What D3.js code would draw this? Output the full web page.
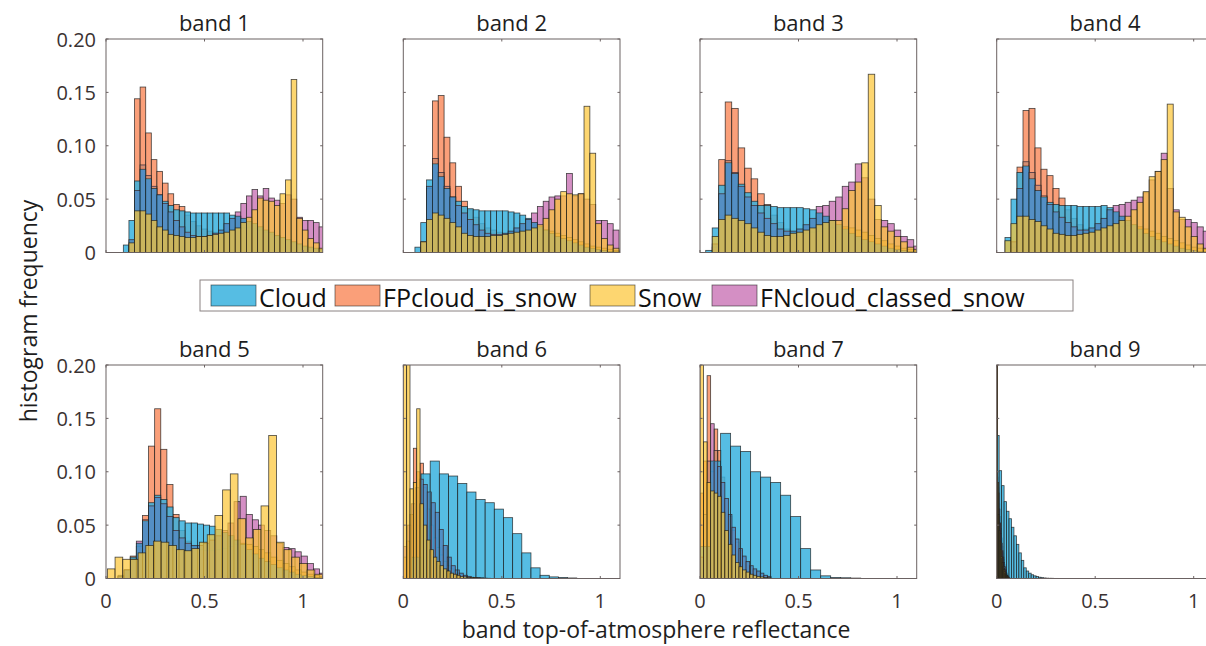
<!DOCTYPE html>
<html>
<head>
<meta charset="utf-8">
<script src="https://cdn.jsdelivr.net/npm/d3@7"></script>
<style>
  body { margin: 0; background: #fff; }
  svg { display: block; font-family: 'Open Sans', 'Noto Sans', sans-serif; }
</style>
</head>
<body>
<svg id="chart" width="1206" height="646"></svg>
<script>
// Series order in every band array: Cloud, FP, Snow, FN
const SERIES = ['Cloud', 'FPcloud_is_snow', 'Snow', 'FNcloud_classed_snow'];
const TITLES = ['band 1', 'band 2', 'band 3', 'band 4', 'band 5', 'band 6', 'band 7', 'band 9'];
const Y_TICKS = [0, 0.05, 0.1, 0.15, 0.2];
const Y_TICK_LABELS = ['0', '0.05', '0.10', '0.15', '0.20'];
const X_TICKS = [0, 0.5, 1];
const X_TICK_LABELS = ['0', '0.5', '1'];

// bin start / bin width per series (Cloud, FP, Snow, FN)
const band1Start = [0.088, 0.088, 0.088, 0.088];
const band1Width = [0.0284, 0.0284, 0.0284, 0.0284];
const band1Cloud = [0.007, 0.030, 0.067, 0.078, 0.069, 0.060, 0.054, 0.048, 0.044, 0.040, 0.039, 0.038, 0.037, 0.037, 0.037, 0.037, 0.037, 0.037, 0.037, 0.035, 0.034, 0.032, 0.029, 0.027, 0.024, 0.021, 0.019, 0.016, 0.014, 0.012, 0.010, 0.008, 0.006, 0.005, 0.004, 0.003];
const band1FP = [0, 0.003, 0.144, 0.155, 0.112, 0.087, 0.076, 0.065, 0.055, 0.045, 0.043, 0.035, 0.029, 0.025, 0.022, 0.020, 0.019, 0.019, 0.020, 0.021, 0.022, 0.023, 0.023, 0.022, 0.021, 0.019, 0.017, 0.015, 0.013, 0.011, 0.009, 0.007, 0.005, 0.004, 0.003, 0.002];
const band1Snow = [0, 0.009, 0.039, 0.039, 0.036, 0.030, 0.024, 0.021, 0.017, 0.016, 0.015, 0.014, 0.014, 0.015, 0.015, 0.016, 0.017, 0.018, 0.019, 0.021, 0.023, 0.028, 0.033, 0.040, 0.051, 0.049, 0.048, 0.044, 0.055, 0.068, 0.162, 0.032, 0.021, 0.013, 0.009, 0.004];
const band1FN = [0, 0.012, 0.058, 0.082, 0.072, 0.062, 0.054, 0.046, 0.038, 0.030, 0.024, 0.019, 0.016, 0.015, 0.015, 0.016, 0.018, 0.021, 0.027, 0.032, 0.038, 0.046, 0.053, 0.059, 0.053, 0.060, 0.051, 0.049, 0.046, 0.054, 0.050, 0.033, 0.030, 0.030, 0.028, 0.024];

const band2Start = [0.059, 0.059, 0.059, 0.059];
const band2Width = [0.0296, 0.0296, 0.0296, 0.0296];
const band2Cloud = [0.005, 0.028, 0.068, 0.083, 0.071, 0.060, 0.052, 0.048, 0.043, 0.041, 0.040, 0.039, 0.039, 0.039, 0.039, 0.039, 0.038, 0.037, 0.035, 0.032, 0.028, 0.024, 0.021, 0.018, 0.015, 0.013, 0.011, 0.009, 0.007, 0.005, 0.004, 0.003, 0.002, 0.001, 0.001];
const band2FP = [0, 0.002, 0.060, 0.142, 0.147, 0.108, 0.084, 0.062, 0.048, 0.040, 0.033, 0.027, 0.023, 0.021, 0.019, 0.018, 0.018, 0.019, 0.020, 0.021, 0.022, 0.022, 0.021, 0.020, 0.018, 0.016, 0.014, 0.012, 0.010, 0.008, 0.006, 0.005, 0.004, 0.003, 0.002];
const band2Snow = [0, 0.010, 0.031, 0.037, 0.035, 0.032, 0.028, 0.024, 0.018, 0.016, 0.015, 0.015, 0.015, 0.016, 0.016, 0.017, 0.018, 0.019, 0.020, 0.021, 0.023, 0.026, 0.032, 0.040, 0.050, 0.057, 0.055, 0.054, 0.055, 0.137, 0.093, 0.027, 0.013, 0.007, 0.004];
const band2FN = [0, 0.010, 0.062, 0.088, 0.075, 0.062, 0.052, 0.044, 0.037, 0.031, 0.026, 0.021, 0.018, 0.017, 0.017, 0.018, 0.020, 0.023, 0.027, 0.031, 0.037, 0.043, 0.048, 0.052, 0.053, 0.053, 0.074, 0.053, 0.055, 0.050, 0.045, 0.030, 0.030, 0.027, 0.021];

const band3Start = [0.029, 0.029, 0.029, 0.029];
const band3Width = [0.033, 0.033, 0.033, 0.033];
const band3Cloud = [0.002, 0.023, 0.063, 0.084, 0.074, 0.064, 0.056, 0.048, 0.044, 0.044, 0.043, 0.042, 0.042, 0.042, 0.042, 0.041, 0.040, 0.037, 0.034, 0.030, 0.026, 0.022, 0.018, 0.015, 0.012, 0.010, 0.008, 0.006, 0.004, 0.003, 0.002, 0.001, 0.001];
const band3FP = [0, 0.005, 0.087, 0.141, 0.135, 0.098, 0.079, 0.069, 0.055, 0.045, 0.035, 0.028, 0.022, 0.019, 0.018, 0.018, 0.019, 0.020, 0.022, 0.023, 0.024, 0.024, 0.023, 0.021, 0.019, 0.016, 0.013, 0.011, 0.008, 0.006, 0.004, 0.003, 0.002];
const band3Snow = [0, 0.015, 0.031, 0.035, 0.032, 0.030, 0.027, 0.023, 0.019, 0.016, 0.015, 0.015, 0.016, 0.018, 0.019, 0.021, 0.023, 0.026, 0.028, 0.030, 0.030, 0.041, 0.058, 0.066, 0.084, 0.167, 0.044, 0.024, 0.020, 0.015, 0.010, 0.005, 0.003];
const band3FN = [0, 0.008, 0.055, 0.086, 0.075, 0.062, 0.052, 0.044, 0.037, 0.032, 0.027, 0.022, 0.020, 0.020, 0.022, 0.026, 0.032, 0.043, 0.044, 0.048, 0.052, 0.062, 0.066, 0.083, 0.070, 0.050, 0.031, 0.030, 0.027, 0.021, 0.015, 0.012, 0.006];

const band4Start = [0.042, 0.042, 0.042, 0.042];
const band4Width = [0.0305, 0.0305, 0.0305, 0.0305];
const band4Cloud = [0.014, 0.050, 0.075, 0.081, 0.069, 0.058, 0.052, 0.047, 0.045, 0.044, 0.044, 0.044, 0.043, 0.043, 0.043, 0.043, 0.044, 0.042, 0.038, 0.034, 0.030, 0.026, 0.022, 0.018, 0.015, 0.012, 0.010, 0.008, 0.006, 0.004, 0.003, 0.002, 0.001, 0.001, 0.001];
const band4FP = [0, 0.005, 0.080, 0.133, 0.135, 0.098, 0.078, 0.072, 0.060, 0.051, 0.040, 0.032, 0.026, 0.022, 0.020, 0.020, 0.021, 0.022, 0.023, 0.024, 0.025, 0.025, 0.024, 0.022, 0.020, 0.018, 0.015, 0.013, 0.011, 0.009, 0.007, 0.005, 0.004, 0.003, 0.002];
const band4Snow = [0.011, 0.027, 0.034, 0.034, 0.031, 0.029, 0.025, 0.022, 0.018, 0.017, 0.016, 0.016, 0.017, 0.018, 0.019, 0.021, 0.023, 0.025, 0.027, 0.030, 0.034, 0.040, 0.047, 0.057, 0.071, 0.076, 0.087, 0.139, 0.038, 0.033, 0.024, 0.015, 0.008, 0.004, 0.002];
const band4FN = [0, 0.010, 0.060, 0.085, 0.075, 0.063, 0.053, 0.045, 0.038, 0.033, 0.028, 0.024, 0.021, 0.021, 0.023, 0.027, 0.032, 0.040, 0.044, 0.045, 0.047, 0.049, 0.052, 0.056, 0.068, 0.076, 0.093, 0.060, 0.040, 0.031, 0.031, 0.028, 0.024, 0.020, 0.015];

const band5Start = [0.03, 0.03, 0.007, 0.03];
const band5Width = [0.031, 0.031, 0.039, 0.031];
const band5Cloud = [0, 0.003, 0.008, 0.020, 0.033, 0.054, 0.071, 0.078, 0.074, 0.067, 0.057, 0.054, 0.052, 0.052, 0.051, 0.050, 0.049, 0.046, 0.043, 0.040, 0.036, 0.032, 0.027, 0.023, 0.019, 0.016, 0.013, 0.010, 0.008, 0.006, 0.004, 0.003, 0.002, 0.001, 0.001];
const band5FP = [0, 0.002, 0.008, 0.021, 0.030, 0.059, 0.124, 0.159, 0.121, 0.088, 0.060, 0.045, 0.035, 0.030, 0.027, 0.026, 0.026, 0.027, 0.028, 0.030, 0.032, 0.033, 0.032, 0.030, 0.027, 0.024, 0.020, 0.017, 0.014, 0.011, 0.008, 0.006, 0.004, 0.003, 0.002];
const band5Snow = [0.009, 0.020, 0.018, 0.018, 0.024, 0.031, 0.035, 0.034, 0.031, 0.027, 0.026, 0.028, 0.034, 0.041, 0.059, 0.083, 0.098, 0.056, 0.038, 0.046, 0.068, 0.134, 0.034, 0.027, 0.020, 0.014, 0.008, 0.004];
const band5FN = [0, 0.002, 0.008, 0.018, 0.035, 0.055, 0.068, 0.076, 0.070, 0.058, 0.045, 0.038, 0.033, 0.031, 0.031, 0.033, 0.036, 0.040, 0.045, 0.052, 0.072, 0.077, 0.060, 0.055, 0.050, 0.045, 0.040, 0.033, 0.029, 0.028, 0.025, 0.021, 0.014, 0.009, 0.005];

const band6Start = [0.0435, 0, 0, 0];
const band6Width = [0.0465, 0.017, 0.017, 0.0203];
const band6Cloud = [0.020, 0.098, 0.110, 0.098, 0.096, 0.089, 0.081, 0.074, 0.071, 0.065, 0.057, 0.042, 0.024, 0.010, 0.003, 0.0015, 0.001, 0.0005];
const band6FP = [0.020, 0.035, 0.060, 0.122, 0.100, 0.108, 0.085, 0.065, 0.050, 0.038, 0.029, 0.022, 0.016, 0.012, 0.009, 0.007, 0.005, 0.004, 0.003, 0.002, 0.0015, 0.001, 0.0008, 0.0005];
const band6Snow = [0.22, 0.21, 0.084, 0.090, 0.159, 0.070, 0.050, 0.036, 0.027, 0.020, 0.016, 0.012, 0.009, 0.007, 0.005, 0.004, 0.003, 0.002, 0.0015, 0.001, 0.001, 0.0008, 0.0005, 0.0004, 0.0003, 0.0002];
const band6FN = [0.030, 0.050, 0.070, 0.085, 0.093, 0.088, 0.081, 0.071, 0.062, 0.046, 0.031, 0.020, 0.012, 0.008, 0.005, 0.003, 0.002, 0.001, 0.0008, 0.0005];

const band7Start = [0.003, 0, 0, 0];
const band7Width = [0.0508, 0.018, 0.018, 0.018];
const band7Cloud = [0.030, 0.110, 0.136, 0.124, 0.119, 0.100, 0.095, 0.090, 0.078, 0.058, 0.028, 0.008, 0.0025, 0.001, 0.0007, 0.0004];
const band7FP = [0.080, 0.110, 0.190, 0.100, 0.140, 0.120, 0.095, 0.075, 0.058, 0.045, 0.034, 0.026, 0.020, 0.015, 0.011, 0.008, 0.006, 0.004, 0.003, 0.002];
const band7Snow = [0.21, 0.128, 0.090, 0.082, 0.080, 0.077, 0.062, 0.045, 0.032, 0.022, 0.015, 0.011, 0.008, 0.006, 0.004, 0.003, 0.002, 0.0015, 0.001, 0.0008];
const band7FN = [0.020, 0.060, 0.110, 0.145, 0.120, 0.105, 0.090, 0.075, 0.060, 0.048, 0.037, 0.028, 0.021, 0.016, 0.012, 0.009, 0.007, 0.005, 0.003, 0.002];

const band9Start = [0, 0, 0, 0];
const band9Width = [0.0125, 0.004, 0.004, 0.004];
const band9Cloud = [0.134, 0.101, 0.087, 0.072, 0.063, 0.056, 0.048, 0.040, 0.032, 0.024, 0.017, 0.010, 0.007, 0.005, 0.0035, 0.0025, 0.0018, 0.0012, 0.0008, 0.0005, 0.0003, 0.0002, 0.0002, 0.0001, 0.0001];
const band9FP = [0.26, 0.095, 0.085, 0.070, 0.058, 0.047, 0.038, 0.030, 0.024, 0.018, 0.013, 0.009, 0.006, 0.004, 0.003, 0.002, 0.001];
const band9Snow = [0.30, 0.090, 0.060, 0.045, 0.035, 0.027, 0.020, 0.015, 0.011, 0.008, 0.006, 0.004, 0.003, 0.002, 0.001];
const band9FN = [0.23, 0.090, 0.080, 0.065, 0.052, 0.042, 0.033, 0.026, 0.020, 0.015, 0.011, 0.008, 0.005, 0.003, 0.002, 0.001];

const bands = [
  { start: band1Start, width: band1Width, values: [band1Cloud, band1FP, band1Snow, band1FN] },
  { start: band2Start, width: band2Width, values: [band2Cloud, band2FP, band2Snow, band2FN] },
  { start: band3Start, width: band3Width, values: [band3Cloud, band3FP, band3Snow, band3FN] },
  { start: band4Start, width: band4Width, values: [band4Cloud, band4FP, band4Snow, band4FN] },
  { start: band5Start, width: band5Width, values: [band5Cloud, band5FP, band5Snow, band5FN] },
  { start: band6Start, width: band6Width, values: [band6Cloud, band6FP, band6Snow, band6FN] },
  { start: band7Start, width: band7Width, values: [band7Cloud, band7FP, band7Snow, band7FN] },
  { start: band9Start, width: band9Width, values: [band9Cloud, band9FP, band9Snow, band9FN] },
];

// Layout
const W = 1206, H = 646;
const PANEL_X = [106, 403.3, 700, 996.7];
const PANEL_Y = [39, 365];
const PW = 216.7, PH = 213.5;
const TICK = 2.5;
const AXIS_COLOR = '#6b6262';
const TEXT_COLOR = '#3a3232';

// fill, opacity, blend -- FN uses darken so it dims the cloud it covers
const STYLE = [
  { fill: '#38b1de', opacity: 0.85, blend: 'normal' },
  { fill: '#f98e62', opacity: 0.85, blend: 'normal' },
  { fill: '#fcc433', opacity: 0.7, blend: 'normal' },
  { fill: '#d48fc4', opacity: 1, blend: 'darken' },
];
const DRAW_ORDER = [1, 0, 3, 2];

const svg = d3.select('#chart');
svg.append('rect').attr('width', W).attr('height', H).attr('fill', '#fff');
const defs = svg.append('defs');

const x = d3.scaleLinear().domain([0, 1.1]).range([0, PW]);
const y = d3.scaleLinear().domain([0, 0.2]).range([PH, 0]);

bands.forEach((b, k) => {
  const row = Math.floor(k / 4), col = k % 4;
  const g = svg.append('g').attr('transform', `translate(${PANEL_X[col]},${PANEL_Y[row]})`);

  defs.append('clipPath').attr('id', 'clip' + k)
    .append('rect').attr('width', PW).attr('height', PH);

  const plot = g.append('g').attr('clip-path', `url(#clip${k})`);

  DRAW_ORDER.forEach(s => {
    const st = STYLE[s];
    const bins = b.values[s].map((v, i) => ({ v, lo: b.start[s] + i * b.width[s] }))
      .filter(d => d.v > 0);
    plot.append('g')
      .style('mix-blend-mode', st.blend)
      .selectAll('rect')
      .data(bins)
      .join('rect')
      .attr('x', d => x(d.lo))
      .attr('width', x(b.width[s]) - x(0))
      .attr('y', d => y(d.v))
      .attr('height', d => y(0) - y(d.v))
      .attr('fill', st.fill)
      .attr('fill-opacity', st.opacity)
      .attr('stroke', '#1a1a1a')
      .attr('stroke-opacity', 0.8)
      .attr('stroke-width', 0.8);
  });

  // box
  g.append('rect')
    .attr('width', PW).attr('height', PH)
    .attr('fill', 'none')
    .attr('stroke', AXIS_COLOR).attr('stroke-width', 1);

  // inward ticks
  Y_TICKS.forEach(t => {
    g.append('line').attr('x1', 0).attr('x2', TICK).attr('y1', y(t)).attr('y2', y(t))
      .attr('stroke', AXIS_COLOR);
    g.append('line').attr('x1', PW).attr('x2', PW - TICK).attr('y1', y(t)).attr('y2', y(t))
      .attr('stroke', AXIS_COLOR);
  });
  X_TICKS.forEach(t => {
    g.append('line').attr('x1', x(t)).attr('x2', x(t)).attr('y1', PH).attr('y2', PH - TICK)
      .attr('stroke', AXIS_COLOR);
    g.append('line').attr('x1', x(t)).attr('x2', x(t)).attr('y1', 0).attr('y2', TICK)
      .attr('stroke', AXIS_COLOR);
  });

  if (col === 0) {
    Y_TICKS.forEach((t, i) => {
      g.append('text')
        .attr('x', -10).attr('y', y(t))
        .attr('text-anchor', 'end').attr('dominant-baseline', 'central')
        .attr('font-size', 20).attr('fill', TEXT_COLOR)
        .text(Y_TICK_LABELS[i]);
    });
  }
  if (row === 1) {
    X_TICKS.forEach((t, i) => {
      g.append('text')
        .attr('x', x(t)).attr('y', PH + 22)
        .attr('text-anchor', 'middle').attr('dominant-baseline', 'central')
        .attr('font-size', 20).attr('fill', TEXT_COLOR)
        .text(X_TICK_LABELS[i]);
    });
  }

  g.append('text')
    .attr('x', PW / 2).attr('y', -17)
    .attr('text-anchor', 'middle').attr('dominant-baseline', 'central')
    .attr('font-size', 22).attr('fill', '#1e1e1e')
    .text(TITLES[k]);
});

// axis labels
svg.append('text')
  .attr('transform', 'translate(28,311) rotate(-90)')
  .attr('text-anchor', 'middle').attr('dominant-baseline', 'central')
  .attr('font-size', 23).attr('fill', '#1e1e1e')
  .text('histogram frequency');
svg.append('text')
  .attr('x', 656).attr('y', 629)
  .attr('text-anchor', 'middle').attr('dominant-baseline', 'central')
  .attr('font-size', 23).attr('fill', '#1e1e1e')
  .text('band top-of-atmosphere reflectance');

// legend
const LEG = { x: 200, y: 280, w: 873, h: 31 };
const legSwatchX = [211, 335, 590, 712];
const legend = svg.append('g');
legend.append('rect')
  .attr('x', LEG.x).attr('y', LEG.y).attr('width', LEG.w).attr('height', LEG.h)
  .attr('fill', '#fff').attr('stroke', '#8a8282').attr('stroke-width', 1);
SERIES.forEach((name, s) => {
  const st = STYLE[s];
  legend.append('rect')
    .attr('x', legSwatchX[s]).attr('y', LEG.y + 5)
    .attr('width', 45).attr('height', 21)
    .attr('fill', st.fill).attr('fill-opacity', st.opacity)
    .attr('stroke', '#1a1a1a').attr('stroke-opacity', 0.65).attr('stroke-width', 0.8);
  legend.append('text')
    .attr('x', legSwatchX[s] + 48).attr('y', LEG.y + LEG.h / 2 + 1)
    .attr('dominant-baseline', 'central')
    .attr('font-size', 25).attr('fill', '#111')
    .text(name);
});
</script>
</body>
</html>
